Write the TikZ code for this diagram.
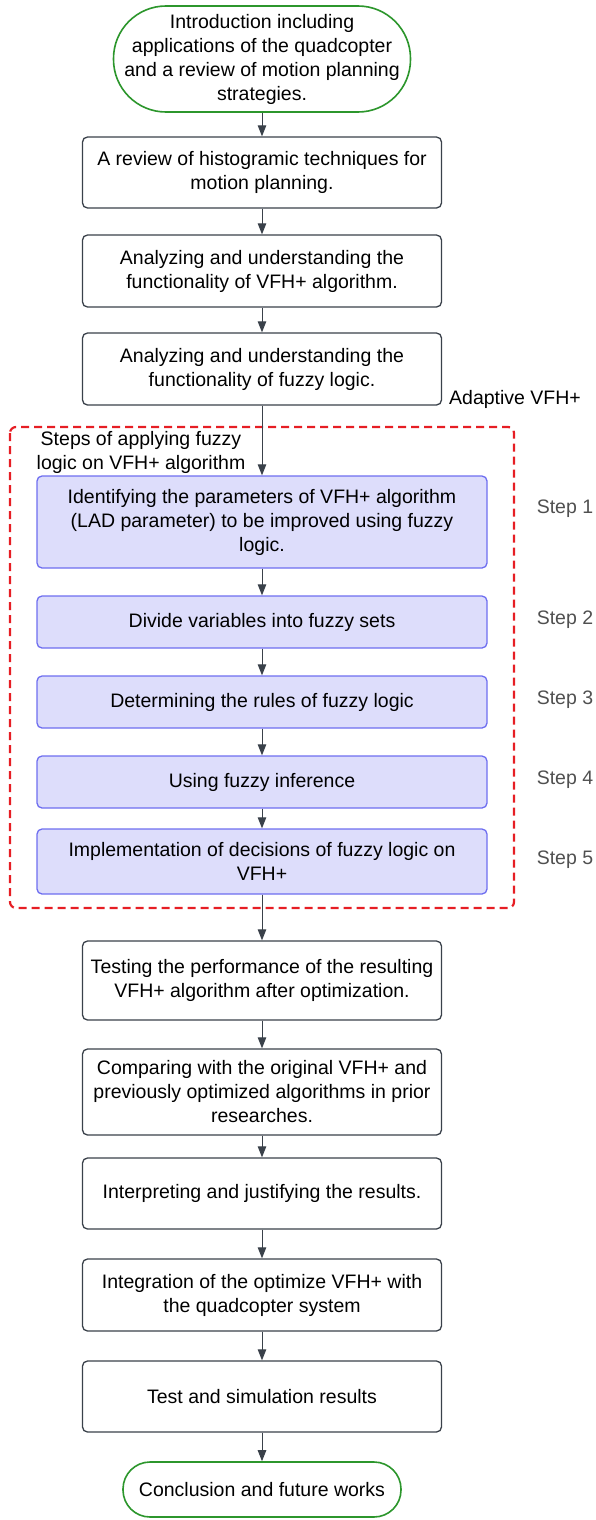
\documentclass[tikz,border=0pt]{standalone}
\usepackage{fontspec}
\setmainfont{Liberation Sans}
\usetikzlibrary{arrows.meta}
\definecolor{edgegray}{RGB}{58,65,74}
\definecolor{termgreen}{RGB}{44,150,44}
\definecolor{stepfill}{RGB}{221,221,251}
\definecolor{stepline}{RGB}{110,110,240}
\definecolor{groupred}{RGB}{230,30,36}
\definecolor{labelgray}{RGB}{80,80,80}
\tikzset{
  base/.style={font=\fontsize{19.5}{24}\selectfont, align=center, inner sep=0pt, text=black},
  term/.style={base, draw=termgreen, line width=1.6pt, rectangle, fill=white},
  procbox/.style={base, draw=edgegray, line width=1.3pt, rounded corners=5pt, fill=white, minimum width=359pt},
  stepbox/.style={base, draw=stepline, line width=1.3pt, rounded corners=5pt, fill=stepfill, minimum width=450pt},
  steplabel/.style={font=\fontsize{19.5}{24}\selectfont, text=labelgray, inner sep=0pt},
  arr/.style={draw=edgegray, line width=1pt, -{Triangle[length=11pt,width=8.5pt]}, fill=edgegray},
}
\begin{document}
\begin{tikzpicture}[x=1pt,y=-1pt]
\useasboundingbox (0,0) rectangle (596,1520);

% grouping frame for the fuzzy-logic steps
\draw[groupred, line width=2.2pt, dash pattern=on 8pt off 5pt, rounded corners=6pt]
  (10,427) rectangle (514,908);

% main flow
\node[term, minimum width=297pt, minimum height=106pt, rounded corners=52.5pt] (start) at (262,59)
  {Introduction including\\applications of the quadcopter\\and a review of motion planning\\strategies.};
\node[procbox, minimum height=71pt] (b1) at (262,172.5)
  {A review of histogramic techniques for\\motion planning.};
\node[procbox, minimum height=72pt] (b2) at (262,271)
  {Analyzing and understanding the\\functionality of VFH+ algorithm.};
\node[procbox, minimum height=72pt] (b3) at (262,369)
  {Analyzing and understanding the\\functionality of fuzzy logic.};

\node[stepbox, minimum height=92pt] (s1) at (262,522)
  {Identifying the parameters of VFH+ algorithm\\(LAD parameter) to be improved using fuzzy\\logic.};
\node[stepbox, minimum height=52pt] (s2) at (262,622) {Divide variables into fuzzy sets};
\node[stepbox, minimum height=52pt] (s3) at (262,702) {Determining the rules of fuzzy logic};
\node[stepbox, minimum height=52pt] (s4) at (262,782) {Using fuzzy inference};
\node[stepbox, minimum height=65pt] (s5) at (262,861.5)
  {Implementation of decisions of fuzzy logic on\\VFH+};

\node[procbox, minimum height=79pt] (b4) at (262,980.5)
  {Testing the performance of the resulting\\VFH+ algorithm after optimization.};
\node[procbox, minimum height=86pt] (b5) at (262,1092)
  {Comparing with the original VFH+ and\\previously optimized algorithms in prior\\researches.};
\node[procbox, minimum height=71pt] (b6) at (262,1193.5)
  {Interpreting and justifying the results.};
\node[procbox, minimum height=72pt] (b7) at (262,1295)
  {Integration of the optimize VFH+ with\\the quadcopter system};
\node[procbox, minimum height=71pt] (b8) at (262,1396.5)
  {Test and simulation results};
\node[term, minimum width=278pt, minimum height=55pt, rounded corners=27pt] (finish) at (262,1489.5)
  {Conclusion and future works};

% side labels
\node[base, anchor=west] (adaptive) at (449,399) {Adaptive VFH+};
\node[base] (groupcap) at (141,452) {Steps of applying fuzzy\\logic on VFH+ algorithm};
\node[steplabel] (l1) at (565,509) {Step 1};
\node[steplabel] (l2) at (565,620) {Step 2};
\node[steplabel] (l3) at (565,700) {Step 3};
\node[steplabel] (l4) at (565,780) {Step 4};
\node[steplabel] (l5) at (565,860) {Step 5};

% connectors
\foreach \a/\b in {start/b1,b1/b2,b2/b3,b3/s1,s1/s2,s2/s3,s3/s4,s4/s5,s5/b4,b4/b5,b5/b6,b6/b7,b7/b8,b8/finish}
  \draw[arr] (\a.south) -- (\b.north);
\end{tikzpicture}
\end{document}
